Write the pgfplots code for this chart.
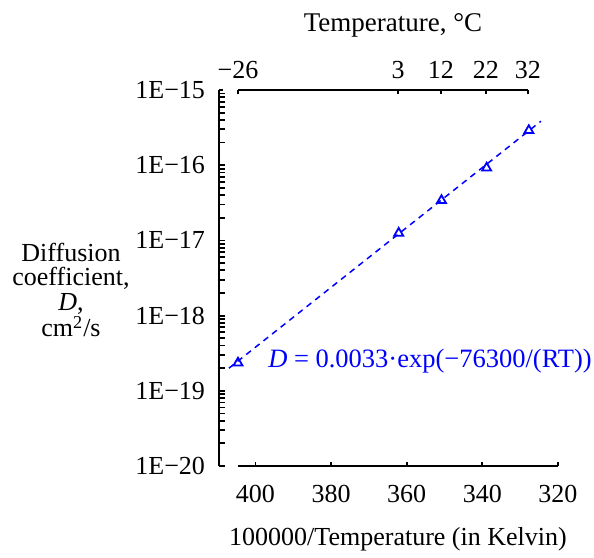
\documentclass[border=0pt]{standalone}
\usepackage{fontspec}
\setmainfont{Liberation Serif}
\usepackage{pgfplots}
\pgfplotsset{compat=1.18}
\usetikzlibrary{calc}
\definecolor{myblue}{RGB}{0,0,255}
\begin{document}
\begin{tikzpicture}
\pgfplotsset{every axis/.append style={font=\fontsize{13}{12}\selectfont},
  every tick/.style={black, line width=0.9pt},
  axis line style={-, line width=0.9pt},
  tick align=inside, major tick length=2pt}
\begin{axis}[name=main, scale only axis, width=160pt, height=188pt,
  xmin=320, xmax=404.61, x dir=reverse, ymode=log, ymin=1e-20, ymax=1e-15,
  axis x line*=bottom, axis y line=none,
  xtick={320,340,360,380,400}, xticklabels={320,340,360,380,400},
  xticklabel style={yshift=-6pt},
  xlabel={100000/Temperature (in Kelvin)}, xlabel style={yshift=-5.5pt},
  clip=false]
\addplot[myblue, line width=0.75pt, dash pattern=on 3pt off 2.5pt] coordinates {(407.0,2.0e-19) (324.5,3.85e-16)};
\addplot[only marks, mark=triangle, mark size=2.6pt, mark options={line width=0.9pt}, myblue] coordinates {
(404.61,2.35e-19) (362.12,1.25e-17) (350.81,3.4e-17) (338.87,9.2e-17) (327.71,2.9e-16)};
\node[anchor=west, inner sep=0pt, text=myblue, font=\fontsize{13.25}{12}\selectfont] at (axis cs:396.7,2.5e-19) {\textit{D} = 0.0033·exp(−76300/(RT))};
\end{axis}
\begin{axis}[at={($(main.south west)+(-9.5pt,0)$)}, anchor=south west, scale only axis, width=1pt, height=188pt,
  xmin=0, xmax=1, ymode=log, ymin=1e-20, ymax=1e-15,
  axis y line*=left, axis x line=none,
  ytick={1e-20,1e-19,1e-18,1e-17,1e-16,1e-15},
  yticklabels={1E−20,1E−19,1E−18,1E−17,1E−16,1E−15},
  yticklabel style={xshift=-3.5pt}]
\end{axis}
\begin{axis}[at={(main.north west)}, anchor=north west, scale only axis, width=145pt, height=188pt,
  xmin=327.71, xmax=404.61, x dir=reverse, ymin=0, ymax=1,
  axis x line*=top, axis y line=none,
  xtick={404.61,362.12,350.81,338.87,327.71}, xticklabels={−26,3,12,22,32},
  xticklabel style={yshift=2pt},
  xlabel={Temperature, °C}, xlabel style={xshift=5pt, yshift=5pt, font=\fontsize{13.5}{12}\selectfont}]
\end{axis}
\node[align=center, font=\fontsize{13}{12.25}\selectfont] at ($(main.south west)+(-83.5pt,88pt)$) {Diffusion\\coefficient,\\\textit{D},\\cm\textsuperscript{2}/s};
\path ($(main.south west)+(-119pt,-41.5pt)$) rectangle ++(297pt,274.5pt);
\end{tikzpicture}
\end{document}
